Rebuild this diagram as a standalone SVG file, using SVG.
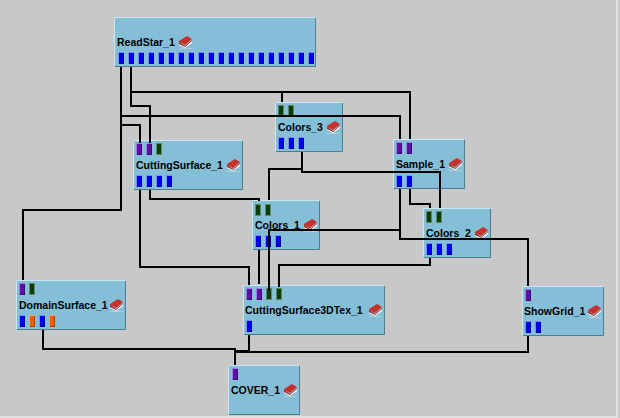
<svg xmlns="http://www.w3.org/2000/svg" width="620" height="418" viewBox="0 0 620 418">
<style>
.bg{fill:#c8c8c8}
.edge{fill:#e2e2e2}
.nb{fill:#85bfd7}
.hi{fill:none;stroke:#c9e6f2;stroke-width:1}
.lo{fill:none;stroke:#4f7c8e;stroke-width:1}
.c{fill:none;stroke:#000;stroke-width:2}
.t{font-family:"Liberation Sans",Arial,sans-serif;font-size:10.500px;font-weight:bold;fill:#000}
.pi{fill:#9a80e0}
.pb{fill:#7a8cf0}
.pg{fill:#5f8a5f}
.po{fill:#f0a070}
.i{fill:#5f0fa8}
.b{fill:#0000f0}
.g{fill:#0c3c0c}
.o{fill:#f55f00}
.di{fill:#3a0a70}
.db{fill:#00009a}
.dp{fill:#a04000}
</style>
<defs>
<g id="book">
<path d="M0 6 L6 10 L13 4 L13 7 L6 12 L0 9Z" fill="#fff"/>
<path d="M0 5 L8 0 L13 3 L6 9 L0 6Z" fill="#c8302c"/>
<path d="M0 6 L6 10 L13 4 L13 5 L6 11 L0 8Z" fill="#8c2020"/>
<path d="M0 12.500 H13" stroke="#b5cfd8" fill="none"/>
</g>
<g id="pI"><rect class="pi" width="6" height="12"/><rect class="di" x="1" y="1" width="5" height="11"/><rect class="i" x="1" y="1" width="4" height="10"/></g>
<g id="pB"><rect class="pb" width="6" height="12"/><rect class="db" x="1" y="1" width="5" height="11"/><rect class="b" x="1" y="1" width="4" height="10"/></g>
<g id="pG"><rect class="pg" width="6" height="12"/><rect class="g" x="1" y="1" width="4" height="10"/></g>
<g id="pO"><rect class="po" width="6" height="12"/><rect class="dp" x="1" y="1" width="5" height="11"/><rect class="o" x="1" y="1" width="4" height="10"/></g>
</defs>
<rect class="bg" width="620" height="418"/>
<rect class="edge" x="616" y="0" width="2" height="418"/>
<rect class="edge" x="0" y="416" width="618" height="2"/>
<g id="ReadStar_1">
<rect class="nb" x="114" y="17" width="202" height="50"/>
<path class="hi" d="M114.500 66.500V17.500H315.500"/><path class="lo" d="M115 66.500H315.500V18"/>
<text class="t" x="117" y="46">ReadStar_1</text><use href="#book" x="179" y="36"/>
<use href="#pB" x="118" y="52"/><use href="#pB" x="128" y="52"/><use href="#pB" x="138" y="52"/><use href="#pB" x="148" y="52"/><use href="#pB" x="158" y="52"/><use href="#pB" x="168" y="52"/><use href="#pB" x="178" y="52"/><use href="#pB" x="188" y="52"/><use href="#pB" x="198" y="52"/><use href="#pB" x="208" y="52"/><use href="#pB" x="218" y="52"/><use href="#pB" x="228" y="52"/><use href="#pB" x="238" y="52"/><use href="#pB" x="248" y="52"/><use href="#pB" x="258" y="52"/><use href="#pB" x="268" y="52"/><use href="#pB" x="278" y="52"/><use href="#pB" x="288" y="52"/><use href="#pB" x="298" y="52"/><use href="#pB" x="308" y="52"/>
</g>
<g id="Colors_3">
<rect class="nb" x="275" y="102" width="68" height="50"/>
<path class="hi" d="M275.500 151.500V102.500H342.500"/><path class="lo" d="M276 151.500H342.500V103"/>
<text class="t" x="278" y="131">Colors_3</text><use href="#book" x="327" y="121"/>
<use href="#pG" x="278" y="105"/><use href="#pG" x="288" y="105"/>
<use href="#pB" x="278" y="137"/><use href="#pB" x="288" y="137"/><use href="#pB" x="298" y="137"/>
</g>
<g id="CuttingSurface_1">
<rect class="nb" x="133" y="140" width="110" height="50"/>
<path class="hi" d="M133.500 189.500V140.500H242.500"/><path class="lo" d="M134 189.500H242.500V141"/>
<text class="t" x="136" y="169">CuttingSurface_1</text><use href="#book" x="227" y="159"/>
<use href="#pI" x="136" y="143"/><use href="#pI" x="146" y="143"/><use href="#pG" x="156" y="143"/>
<use href="#pB" x="136" y="175"/><use href="#pB" x="146" y="175"/><use href="#pB" x="156" y="175"/><use href="#pB" x="166" y="175"/>
</g>
<g id="Sample_1">
<rect class="nb" x="393" y="139" width="72" height="50"/>
<path class="hi" d="M393.500 188.500V139.500H464.500"/><path class="lo" d="M394 188.500H464.500V140"/>
<text class="t" x="396" y="168">Sample_1</text><use href="#book" x="449" y="158"/>
<use href="#pI" x="396" y="142"/><use href="#pI" x="406" y="142"/>
<use href="#pB" x="396" y="175"/><use href="#pB" x="406" y="175"/>
</g>
<g id="Colors_2">
<rect class="nb" x="423" y="208" width="68" height="50"/>
<path class="hi" d="M423.500 257.500V208.500H490.500"/><path class="lo" d="M424 257.500H490.500V209"/>
<text class="t" x="426" y="237">Colors_2</text><use href="#book" x="475" y="227"/>
<use href="#pG" x="426" y="211"/><use href="#pG" x="436" y="211"/>
<use href="#pB" x="426" y="243"/><use href="#pB" x="436" y="243"/><use href="#pB" x="446" y="243"/>
</g>
<g id="Colors_1">
<rect class="nb" x="252" y="200" width="68" height="50"/>
<path class="hi" d="M252.500 249.500V200.500H319.500"/><path class="lo" d="M253 249.500H319.500V201"/>
<text class="t" x="255" y="229">Colors_1</text><use href="#book" x="304" y="219"/>
<use href="#pG" x="255" y="204"/><use href="#pG" x="265" y="204"/>
<use href="#pB" x="255" y="235"/><use href="#pB" x="265" y="235"/><use href="#pB" x="275" y="235"/>
</g>
<g id="DomainSurface_1">
<rect class="nb" x="16" y="280" width="110" height="50"/>
<path class="hi" d="M16.500 329.500V280.500H125.500"/><path class="lo" d="M17 329.500H125.500V281"/>
<text class="t" x="19" y="309">DomainSurface_1</text><use href="#book" x="110" y="299"/>
<use href="#pI" x="19" y="283"/><use href="#pG" x="29" y="283"/>
<use href="#pB" x="19" y="315"/><use href="#pO" x="29" y="315"/><use href="#pB" x="39" y="315"/><use href="#pO" x="49" y="315"/>
</g>
<g id="CuttingSurface3DTex_1">
<rect class="nb" x="243" y="285" width="142" height="50"/>
<path class="hi" d="M243.500 334.500V285.500H384.500"/><path class="lo" d="M244 334.500H384.500V286"/>
<text class="t" x="245" y="314">CuttingSurface3DTex_1</text><use href="#book" x="369" y="304"/>
<use href="#pI" x="246" y="288"/><use href="#pI" x="256" y="288"/><use href="#pG" x="266" y="288"/><use href="#pG" x="276" y="288"/>
<use href="#pB" x="246" y="320"/>
</g>
<g id="ShowGrid_1">
<rect class="nb" x="522" y="286" width="82" height="50"/>
<path class="hi" d="M522.500 335.500V286.500H603.500"/><path class="lo" d="M523 335.500H603.500V287"/>
<text class="t" x="524" y="315">ShowGrid_1</text><use href="#book" x="588" y="305"/>
<use href="#pI" x="525" y="289"/>
<use href="#pB" x="525" y="321"/><use href="#pB" x="535" y="321"/>
</g>
<g id="COVER_1">
<rect class="nb" x="228" y="365" width="72" height="50"/>
<path class="hi" d="M228.500 414.500V365.500H299.500"/><path class="lo" d="M229 414.500H299.500V366"/>
<text class="t" x="231" y="394">COVER_1</text><use href="#book" x="284" y="384"/>
<use href="#pI" x="232" y="368"/>
</g>
<g id="connectors">
<path class="c" d="M121 67V210H23V280"/>
<path class="c" d="M121 116H400V139"/>
<path class="c" d="M121 125H140V143"/>
<path class="c" d="M131 67V106H150V143"/>
<path class="c" d="M131 92H410V139"/>
<path class="c" d="M282 92V102"/>
<path class="c" d="M302 152V172H440V208"/>
<path class="c" d="M302 169H269V200"/>
<path class="c" d="M400 189V239H528V286"/>
<path class="c" d="M400 230H269V290"/>
<path class="c" d="M410 189V204H430V208"/>
<path class="c" d="M430 258V265H279V287"/>
<path class="c" d="M140 190V267H249V285"/>
<path class="c" d="M150 190V199H259V201"/>
<path class="c" d="M259 250V284"/>
<path class="c" d="M43 330V349H235V365"/>
<path class="c" d="M249 335V351H235"/>
<path class="c" d="M528 336V352H235"/>
</g>
</svg>
